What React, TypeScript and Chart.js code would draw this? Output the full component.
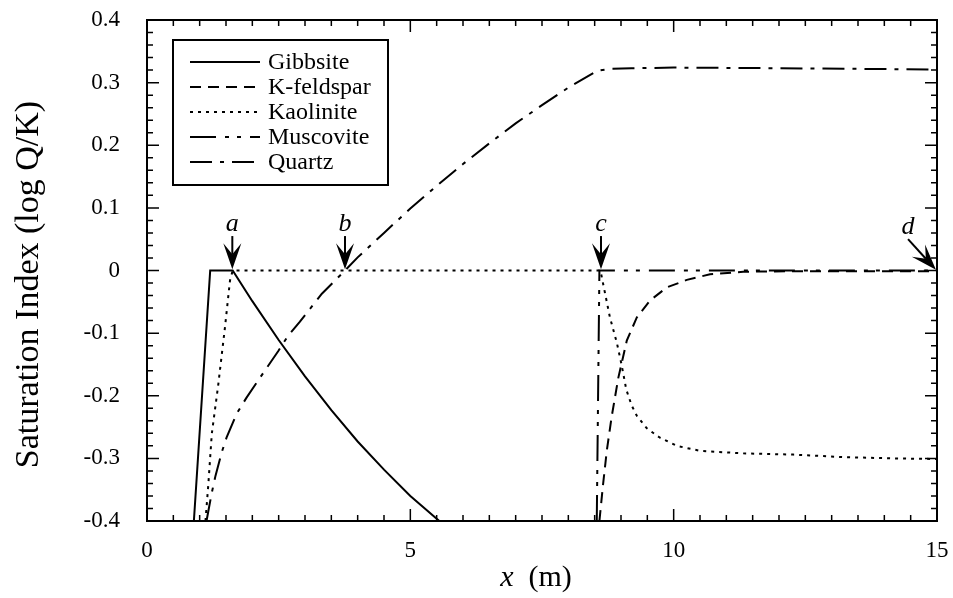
import React, { useEffect, useRef } from 'react';
import { Chart, registerables } from 'chart.js';

Chart.register(...registerables);

const CANVAS_W = 953;
const CANVAS_H = 598;

// Axis ranges and tick steps
const xMin = 0;
const xMax = 15;
const xTickStep = 5;
const yMin = -0.4;
const yMax = 0.4;
const yTickStep = 0.1;

// Series labels
const seriesLabels = ['Gibbsite', 'K-feldspar', 'Kaolinite', 'Muscovite', 'Quartz'];

// Gibbsite
const gibbsiteX = [0.89, 1.2, 1.627, 2.0, 2.5, 3.0, 3.5, 4.0, 4.5, 5.0, 5.55];
const gibbsiteY = [-0.4, 0, 0, -0.049, -0.111, -0.169, -0.223, -0.273, -0.318, -0.36, -0.4];

// K-feldspar
const kfeldsparX = [8.59, 8.66, 8.73, 8.82, 8.95, 9.11, 9.3, 9.55, 9.87, 10.25, 10.69, 11.32, 12.5, 15];
const kfeldsparY = [-0.4, -0.341, -0.288, -0.235, -0.171, -0.112, -0.075, -0.048, -0.027, -0.015, -0.006, -0.002, -0.001, -0.001];

// Kaolinite
const kaoliniteX = [1.11, 1.165, 1.23, 1.355, 1.48, 1.576, 1.627, 8.61, 8.66, 8.79, 8.92, 9.01, 9.1, 9.2, 9.3, 9.49, 9.74, 10.06, 10.5, 11.32, 12.27, 13.22, 14.17, 15];
const kaoliniteY = [-0.4, -0.341, -0.261, -0.181, -0.091, -0.016, 0, 0, -0.021, -0.075, -0.115, -0.15, -0.19, -0.215, -0.232, -0.252, -0.267, -0.28, -0.288, -0.292, -0.294, -0.298, -0.3, -0.301];

// Muscovite
const muscoviteX = [8.54, 8.59, 15];
const muscoviteY = [-0.4, 0, 0];

// Quartz
const quartzX = [1.13, 1.165, 1.23, 1.3, 1.42, 1.51, 1.7, 1.89, 2.18, 2.49, 2.68, 2.9, 3.32, 3.76, 4.0, 4.5, 5.0, 5.5, 6.0, 6.5, 7.0, 7.5, 8.0, 8.55, 8.8, 9.2, 10, 12, 15];
const quartzY = [-0.4, -0.384, -0.355, -0.328, -0.29, -0.267, -0.229, -0.203, -0.167, -0.129, -0.104, -0.082, -0.037, 0, 0.021, 0.06, 0.099, 0.135, 0.17, 0.203, 0.235, 0.264, 0.292, 0.319, 0.322, 0.323, 0.324, 0.323, 0.321];

// Event markers (a, b, c, d): arrow tail and tip in data coordinates
const markerLabels = ['a', 'b', 'c', 'd'];
const markerTailX = [1.62, 3.76, 8.62, 14.45];
const markerTailY = [0.055, 0.055, 0.055, 0.05];
const markerTipX = [1.62, 3.76, 8.62, 14.98];
const markerTipY = [0.002, 0.002, 0.002, 0.001];

const SERIF = '"Liberation Serif", "Times New Roman", serif';

const toPoints = (xs: number[], ys: number[]) => xs.map((x, i) => ({ x, y: ys[i] }));

const lineStyles: Record<string, number[]> = {
  'Gibbsite': [],
  'K-feldspar': [11, 7],
  'Kaolinite': [3, 5],
  'Muscovite': [26, 9, 4, 8, 4, 9],
  'Quartz': [22, 8, 4, 8],
};

const seriesData = [
  toPoints(gibbsiteX, gibbsiteY),
  toPoints(kfeldsparX, kfeldsparY),
  toPoints(kaoliniteX, kaoliniteY),
  toPoints(muscoviteX, muscoviteY),
  toPoints(quartzX, quartzY),
];

const framePlugin = {
  id: 'frameAndDecor',
  afterDraw(chart: any) {
    const { ctx, chartArea: a, scales } = chart;
    const xs = scales.x;
    const ys = scales.y;
    ctx.save();
    ctx.setLineDash([]);
    ctx.strokeStyle = '#000';
    ctx.fillStyle = '#000';

    // frame
    ctx.lineWidth = 2;
    ctx.strokeRect(a.left, a.top, a.right - a.left, a.bottom - a.top);

    // inward ticks on all four sides
    ctx.lineWidth = 1.5;
    ctx.beginPath();
    const nx = Math.round((xMax - xMin) / 0.5);
    for (let i = 0; i <= nx; i++) {
      const px = xs.getPixelForValue(xMin + i * 0.5);
      const len = i % 10 === 0 ? 12 : 6;
      ctx.moveTo(px, a.bottom);
      ctx.lineTo(px, a.bottom - len);
      ctx.moveTo(px, a.top);
      ctx.lineTo(px, a.top + len);
    }
    const ny = Math.round((yMax - yMin) / 0.02);
    for (let i = 0; i <= ny; i++) {
      const py = ys.getPixelForValue(yMin + i * 0.02);
      const len = i % 5 === 0 ? 12 : 6;
      ctx.moveTo(a.left, py);
      ctx.lineTo(a.left + len, py);
      ctx.moveTo(a.right, py);
      ctx.lineTo(a.right - len, py);
    }
    ctx.stroke();

    // markers
    for (let i = 0; i < markerLabels.length; i++) {
      const tx = xs.getPixelForValue(markerTailX[i]);
      const ty = ys.getPixelForValue(markerTailY[i]);
      const hx = xs.getPixelForValue(markerTipX[i]);
      const hy = ys.getPixelForValue(markerTipY[i]);
      const ang = Math.atan2(hy - ty, hx - tx);
      const headLen = 26;
      const notch = 15;
      const half = 9;
      const cos = Math.cos(ang);
      const sin = Math.sin(ang);
      ctx.lineWidth = 2;
      ctx.beginPath();
      ctx.moveTo(tx, ty);
      ctx.lineTo(hx - cos * notch, hy - sin * notch);
      ctx.stroke();
      const bx = hx - cos * headLen;
      const by = hy - sin * headLen;
      ctx.beginPath();
      ctx.moveTo(hx, hy);
      ctx.lineTo(bx - sin * half, by + cos * half);
      ctx.lineTo(hx - cos * notch, hy - sin * notch);
      ctx.lineTo(bx + sin * half, by - cos * half);
      ctx.closePath();
      ctx.fill();
      ctx.font = `italic 26px ${SERIF}`;
      ctx.textAlign = 'center';
      ctx.textBaseline = 'alphabetic';
      ctx.fillText(markerLabels[i], tx, ty - 5);
    }

    // legend
    const bxL = a.left + 26;
    const byT = a.top + 20;
    const bw = 215;
    const bh = 145;
    ctx.fillStyle = '#fff';
    ctx.fillRect(bxL, byT, bw, bh);
    ctx.fillStyle = '#000';
    ctx.lineWidth = 2;
    ctx.setLineDash([]);
    ctx.strokeRect(bxL, byT, bw, bh);
    ctx.font = `24px ${SERIF}`;
    ctx.textAlign = 'left';
    ctx.textBaseline = 'middle';
    chart.data.datasets.forEach((ds: any, i: number) => {
      const y = byT + 22 + i * 25;
      ctx.beginPath();
      ctx.setLineDash(ds.borderDash || []);
      ctx.lineWidth = ds.borderWidth;
      ctx.moveTo(bxL + 17, y);
      ctx.lineTo(bxL + 87, y);
      ctx.stroke();
      ctx.setLineDash([]);
      ctx.fillText(ds.label, bxL + 95, y + 1);
    });

    // axis titles
    ctx.textBaseline = 'middle';
    const cx = (a.left + a.right) / 2;
    const xTitleY = 578;
    ctx.font = `italic 30px ${SERIF}`;
    const wX = ctx.measureText('x').width;
    ctx.font = `30px ${SERIF}`;
    const wRest = ctx.measureText('  (m)').width;
    const startX = cx - (wX + wRest) / 2 - 6;
    ctx.font = `italic 30px ${SERIF}`;
    ctx.textAlign = 'left';
    ctx.fillText('x', startX, xTitleY);
    ctx.font = `30px ${SERIF}`;
    ctx.fillText('  (m)', startX + wX, xTitleY);

    ctx.save();
    ctx.translate(29, (a.top + a.bottom) / 2 + 14);
    ctx.rotate(-Math.PI / 2);
    ctx.textAlign = 'center';
    ctx.font = `34px ${SERIF}`;
    ctx.fillText('Saturation Index (log Q/K)', 0, 0);
    ctx.restore();

    ctx.restore();
  },
};

export default function App() {
  const ref = useRef<HTMLCanvasElement | null>(null);
  useEffect(() => {
    if (!ref.current) return;
    const datasets = seriesLabels.map((label, i) => ({
      label,
      data: seriesData[i],
      borderColor: '#000',
      backgroundColor: '#000',
      borderWidth: 2,
      borderDash: lineStyles[label],
      borderCapStyle: 'butt' as const,
      pointRadius: 0,
      fill: false,
      tension: 0,
    }));
    const chart = new Chart(ref.current, {
      type: 'line',
      data: { datasets },
      options: {
        animation: false,
        responsive: false,
        devicePixelRatio: 1,
        layout: { padding: { top: 20, right: 16, left: 0, bottom: 0 } },
        plugins: { legend: { display: false }, tooltip: { enabled: false } },
        scales: {
          x: {
            type: 'linear',
            min: xMin,
            max: xMax,
            grid: { display: false },
            border: { display: false },
            ticks: {
              stepSize: xTickStep,
              padding: 8,
              maxRotation: 0,
              color: '#000',
              font: { family: SERIF, size: 23 },
            },
            afterFit: (s: any) => {
              s.height = 77;
              s.paddingLeft = 0;
              s.paddingRight = 0;
            },
          },
          y: {
            type: 'linear',
            min: yMin,
            max: yMax,
            grid: { display: false },
            border: { display: false },
            ticks: {
              stepSize: yTickStep,
              padding: 19,
              color: '#000',
              font: { family: SERIF, size: 23 },
              callback: (v: any) => String(Number(Number(v).toFixed(1))),
            },
            afterFit: (s: any) => {
              s.width = 147;
              s.paddingTop = 0;
              s.paddingBottom = 0;
            },
          },
        },
      },
      plugins: [framePlugin],
    });
    return () => chart.destroy();
  }, []);
  return (
    <canvas
      ref={ref}
      width={CANVAS_W}
      height={CANVAS_H}
      style={{ position: 'absolute', left: 0, top: 0, display: 'block', width: CANVAS_W + 'px', height: CANVAS_H + 'px' }}
    />
  );
}
